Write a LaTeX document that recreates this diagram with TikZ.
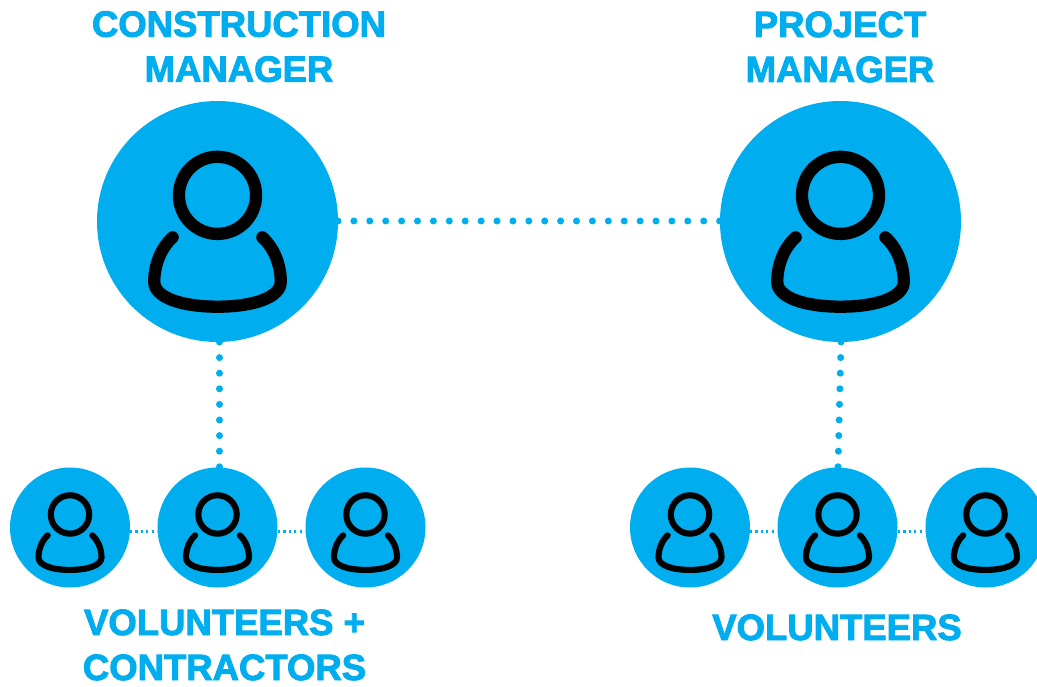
\documentclass[tikz,border=0pt]{standalone}
\usepackage{fontspec}
\setmainfont{Liberation Sans}[FakeBold=2.5]
\definecolor{cmblue}{HTML}{00AEEF}
\newcommand\personicon[3]{%
  \begin{scope}[shift={(#1,#2)}, scale=#3]
    \draw[line width=#3*0.102pt, black] (0,-0.217) circle (0.32);
    \draw[line width=#3*0.102pt, black, line cap=round, line join=round]
      (-0.372,0.131) .. controls (-0.47,0.22) and (-0.525,0.36) .. (-0.525,0.5)
      .. controls (-0.525,0.63) and (-0.3,0.707) .. (0,0.707)
      .. controls (0.3,0.707) and (0.525,0.63) .. (0.525,0.5)
      .. controls (0.525,0.36) and (0.47,0.22) .. (0.372,0.131);
  \end{scope}}
\begin{document}
\begin{tikzpicture}[x=1pt,y=-1pt,
  bigc/.style={circle, fill=cmblue, minimum size=241pt, inner sep=0pt, outer sep=0pt},
  smallc/.style={circle, fill=cmblue, minimum size=120pt, inner sep=0pt, outer sep=0pt},
  bigdots/.style={cmblue, line width=7pt, line cap=round, dash pattern=on 0pt off 15.9pt},
  vdots/.style={cmblue, line width=7pt, line cap=round, dash pattern=on 0pt off 15.6pt},
  smalldots/.style={cmblue, line width=2.2pt, dash pattern=on 2.2pt off 3.2pt},
  lbl/.style={text=cmblue, font=\bfseries\fontsize{36.5}{45}\selectfont, align=center, inner sep=0pt, anchor=base}]
\path[use as bounding box] (0,0) rectangle (1037,687);
% small connectors (behind circles)
\coordinate (la) at (130,531.5);
\coordinate (lb) at (157,531.5);
\coordinate (lc) at (278,531.5);
\coordinate (ld) at (305,531.5);
\coordinate (ra) at (750,531.5);
\coordinate (rb) at (777,531.5);
\coordinate (rc) at (898,531.5);
\coordinate (rd) at (925,531.5);
\draw[smalldots] (la) -- (lb);
\draw[smalldots] (lc) -- (ld);
\draw[smalldots] (ra) -- (rb);
\draw[smalldots] (rc) -- (rd);
% big circles
\node[bigc] (cm) at (217.5,221.5) {};
\node[bigc] (pm) at (840.5,221.5) {};
% small circles
\node[smallc] (v1) at (70,527.5) {};
\node[smallc] (v2) at (217.5,527.5) {};
\node[smallc] (v3) at (365.5,527.5) {};
\node[smallc] (w1) at (690,527.5) {};
\node[smallc] (w2) at (837.5,527.5) {};
\node[smallc] (w3) at (985.5,527.5) {};
% dotted connectors
\draw[bigdots] ([yshift=0.5pt]cm.east) -- ([yshift=0.5pt]pm.west);
\draw[vdots] ([xshift=2pt]cm.south) -- ([xshift=2pt]v2.north);
\draw[vdots] ([xshift=0.5pt]pm.south) -- ([xshift=0.5pt]w2.north);
% icons
\personicon{217.5}{221.5}{120.5}
\personicon{840.5}{221.5}{120.5}
\personicon{70}{527.5}{60}
\personicon{217.5}{527.5}{60}
\personicon{365.5}{527.5}{60}
\personicon{690}{527.5}{60}
\personicon{837.5}{527.5}{60}
\personicon{985.5}{527.5}{60}
% labels
\node[lbl] (tcm) at (239,81.7) {CONSTRUCTION\\MANAGER};
\node[lbl] (tpm) at (840,82) {PROJECT\\MANAGER};
\node[lbl] (tvc) at (224.5,680) {VOLUNTEERS +\\CONTRACTORS};
\node[lbl] (tv) at (837,640) {VOLUNTEERS};
\end{tikzpicture}
\end{document}
